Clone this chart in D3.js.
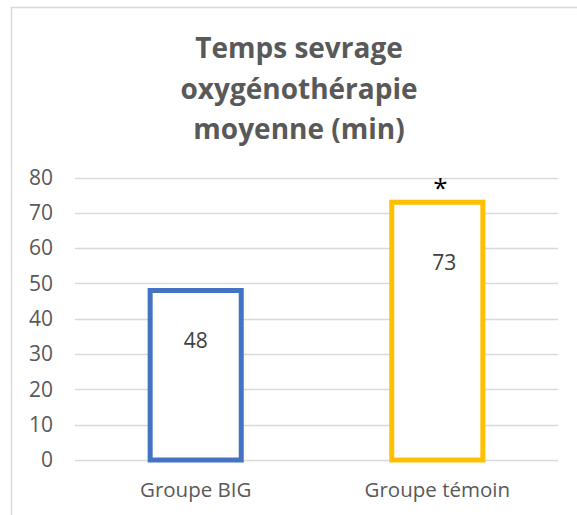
<!DOCTYPE html>
<html>
<head>
<meta charset="utf-8">
<script src="https://cdn.jsdelivr.net/npm/d3@7"></script>
<style>
  body { margin: 0; background: #fff; }
  text { font-family: "Open Sans", sans-serif; }
</style>
</head>
<body>
<svg id="chart"></svg>
<script>
// data
var categories = ["Groupe BIG", "Groupe témoin"];
var values = [48, 73];
var colors = ["#4472C4", "#FFC000"];
var yTicks = [0, 10, 20, 30, 40, 50, 60, 70, 80];
var titleLines = ["Temps sevrage", "oxygénothérapie", "moyenne (min)"];
var significance = ["", "*"];

var width = 577, height = 515;
var svg = d3.select("#chart")
    .attr("width", width)
    .attr("height", height);

// frame (cropped chart area: only left and top edges visible)
svg.append("path")
    .attr("d", "M11.5," + height + "V7.5H" + width)
    .attr("fill", "none")
    .attr("stroke", "#d9d9d9")
    .attr("stroke-width", 1.5);

// title
svg.append("g")
    .selectAll("text")
    .data(titleLines)
    .enter().append("text")
      .attr("x", 299)
      .attr("y", function(d, i) { return 58 + i * 40.5; })
      .attr("text-anchor", "middle")
      .attr("font-size", 28)
      .attr("font-weight", "bold")
      .attr("fill", "#595959")
      .text(function(d) { return d; });

var x = d3.scaleBand()
    .domain(categories)
    .range([75, 558])
    .paddingInner(0.623)
    .paddingOuter(0.311);

var y = d3.scaleLinear()
    .domain([0, 80])
    .range([460, 177.5]);

// gridlines
svg.append("g")
    .selectAll("line")
    .data(yTicks)
    .enter().append("line")
      .attr("x1", 75)
      .attr("x2", 558)
      .attr("y1", function(d) { return Math.round(y(d)) + 0.5; })
      .attr("y2", function(d) { return Math.round(y(d)) + 0.5; })
      .attr("stroke", "#d9d9d9")
      .attr("stroke-width", 1.5);

// y axis labels
var yAxis = svg.append("g")
    .attr("transform", "translate(53,0)")
    .call(d3.axisLeft(y).tickValues(yTicks).tickSize(0).tickPadding(0));
yAxis.select(".domain").remove();
yAxis.selectAll("text")
    .attr("font-family", "Open Sans, sans-serif")
    .attr("font-size", 21)
    .attr("fill", "#595959");

// x axis labels
var xAxis = svg.append("g")
    .attr("transform", "translate(0,482)")
    .call(d3.axisBottom(x).tickSize(0).tickPadding(0));
xAxis.select(".domain").remove();
xAxis.selectAll("text")
    .attr("font-family", "Open Sans, sans-serif")
    .attr("font-size", 20.5)
    .attr("fill", "#595959");

// bars (outlined)
svg.append("g")
    .selectAll("rect")
    .data(values)
    .enter().append("rect")
      .attr("x", function(d, i) { return x(categories[i]); })
      .attr("y", function(d) { return y(d); })
      .attr("width", x.bandwidth())
      .attr("height", function(d) { return y(0) - y(d); })
      .attr("fill", "#fff")
      .attr("stroke", function(d, i) { return colors[i]; })
      .attr("stroke-width", 5);

// value labels
var labelDx = [0, 7], labelDy = [57, 68];
svg.append("g")
    .selectAll("text")
    .data(values)
    .enter().append("text")
      .attr("x", function(d, i) { return x(categories[i]) + x.bandwidth() / 2 + labelDx[i]; })
      .attr("y", function(d, i) { return y(d) + labelDy[i]; })
      .attr("text-anchor", "middle")
      .attr("font-size", 21)
      .attr("fill", "#404040")
      .text(function(d) { return d; });

// significance marker
svg.append("g")
    .selectAll("text")
    .data(values)
    .enter().append("text")
      .attr("x", function(d, i) { return x(categories[i]) + x.bandwidth() / 2 + 3; })
      .attr("y", function(d) { return y(d) - 5; })
      .attr("text-anchor", "middle")
      .attr("font-size", 26)
      .attr("fill", "#000")
      .text(function(d, i) { return significance[i]; });
</script>
</body>
</html>
